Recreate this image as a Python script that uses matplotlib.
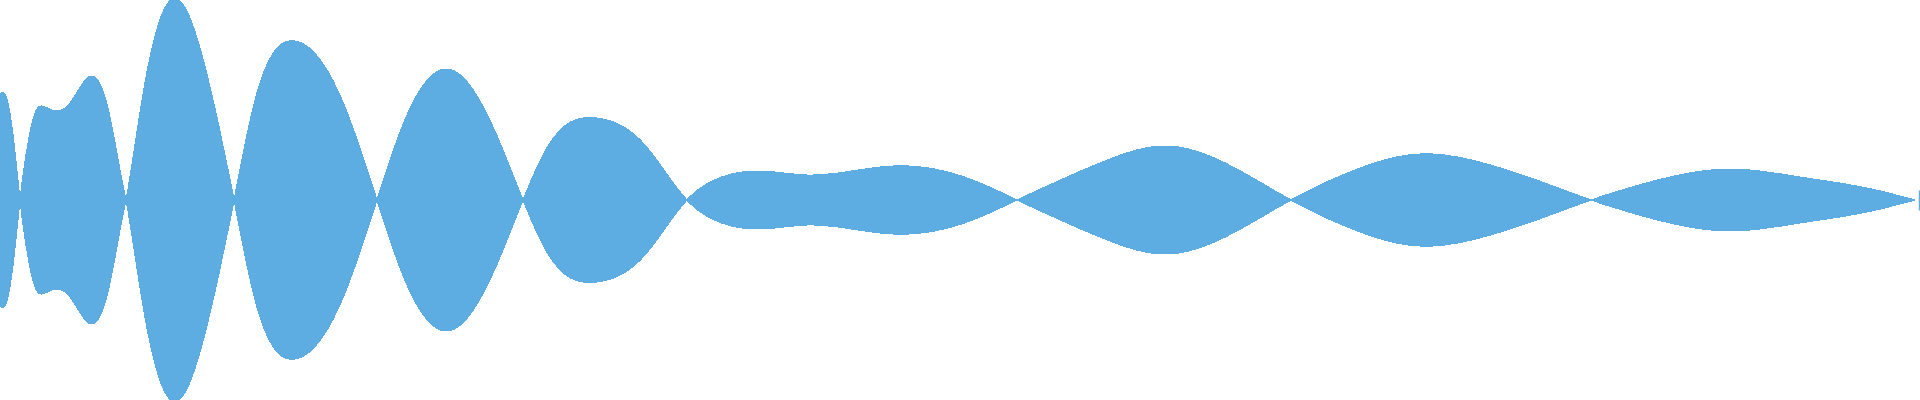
import numpy as np
import matplotlib
matplotlib.use('Agg')
import matplotlib.pyplot as plt
from matplotlib.path import Path
from matplotlib.patches import PathPatch

COLOR = '#5DADE2'

# sample positions (px along the strip) and signed level
x_pos = [0, 4, 14, 20,
         28, 35, 45, 57, 70, 92, 110, 120, 126,
         142, 171, 213, 234,
         255, 295, 342, 377,
         402, 446, 493, 523,
         550, 597, 643, 687,
         717, 757, 807, 893, 967, 1017,
         1100, 1165, 1233, 1291,
         1350, 1420, 1483, 1550, 1591,
         1650, 1730, 1800, 1867, 1915]

level = [106, 107, 57, 0,
         -57, -87, -93, -89, -97, -124, -83, -30, 0,
         100, 200, 100, 0,
         -100, -159, -100, 0,
         73, 131, 73, 0,
         -57, -82, -57, 0,
         21, 29, 25, 34, 22, 0,
         -37, -54, -33, 0,
         28, 46, 37, 15, 0,
         -18, -31, -23, -12, 0]

end_x = 1919
end_level = 10


def spline_bezier(xs, ys):
    # natural cubic spline through the samples, written as bezier segments
    xs = np.asarray(xs, float)
    ys = np.asarray(ys, float)
    n = len(xs)
    h = np.diff(xs)
    A = np.zeros((n, n))
    r = np.zeros(n)
    A[0, 0] = A[-1, -1] = 1
    for i in range(1, n - 1):
        A[i, i - 1] = h[i - 1]
        A[i, i] = 2 * (h[i - 1] + h[i])
        A[i, i + 1] = h[i]
        r[i] = 6 * ((ys[i + 1] - ys[i]) / h[i] - (ys[i] - ys[i - 1]) / h[i - 1])
    M = np.linalg.solve(A, r)
    s = np.zeros(n)
    s[:-1] = (ys[1:] - ys[:-1]) / h - h * (2 * M[:-1] + M[1:]) / 6
    s[-1] = (ys[-1] - ys[-2]) / h[-1] + h[-1] * (M[-2] + 2 * M[-1]) / 6
    verts = []
    for i in range(n - 1):
        t = h[i] / 3
        verts += [(xs[i] + t, ys[i] + s[i] * t),
                  (xs[i + 1] - t, ys[i + 1] - s[i + 1] * t),
                  (xs[i + 1], ys[i + 1])]
    return verts


top = spline_bezier(x_pos, level)
bot = spline_bezier(x_pos[::-1], [-v for v in level[::-1]])

verts = [(x_pos[0], level[0])] + top + [(x_pos[-1], -level[-1])] + bot + [(0, 0)]
codes = ([Path.MOVETO] + [Path.CURVE4] * len(top) + [Path.LINETO]
         + [Path.CURVE4] * len(bot) + [Path.CLOSEPOLY])

fig = plt.figure(figsize=(19.2, 4), dpi=100)
ax = fig.add_axes([0, 0, 1, 1])
ax.add_patch(PathPatch(Path(verts, codes), facecolor=COLOR, edgecolor='none',
                       antialiased=False))
ax.vlines(end_x, -end_level, end_level, color=COLOR, lw=1)
ax.set_xlim(0, 1920)
ax.set_ylim(-200, 200)
ax.axis('off')
fig.savefig('out.png', dpi=100, facecolor='white')
